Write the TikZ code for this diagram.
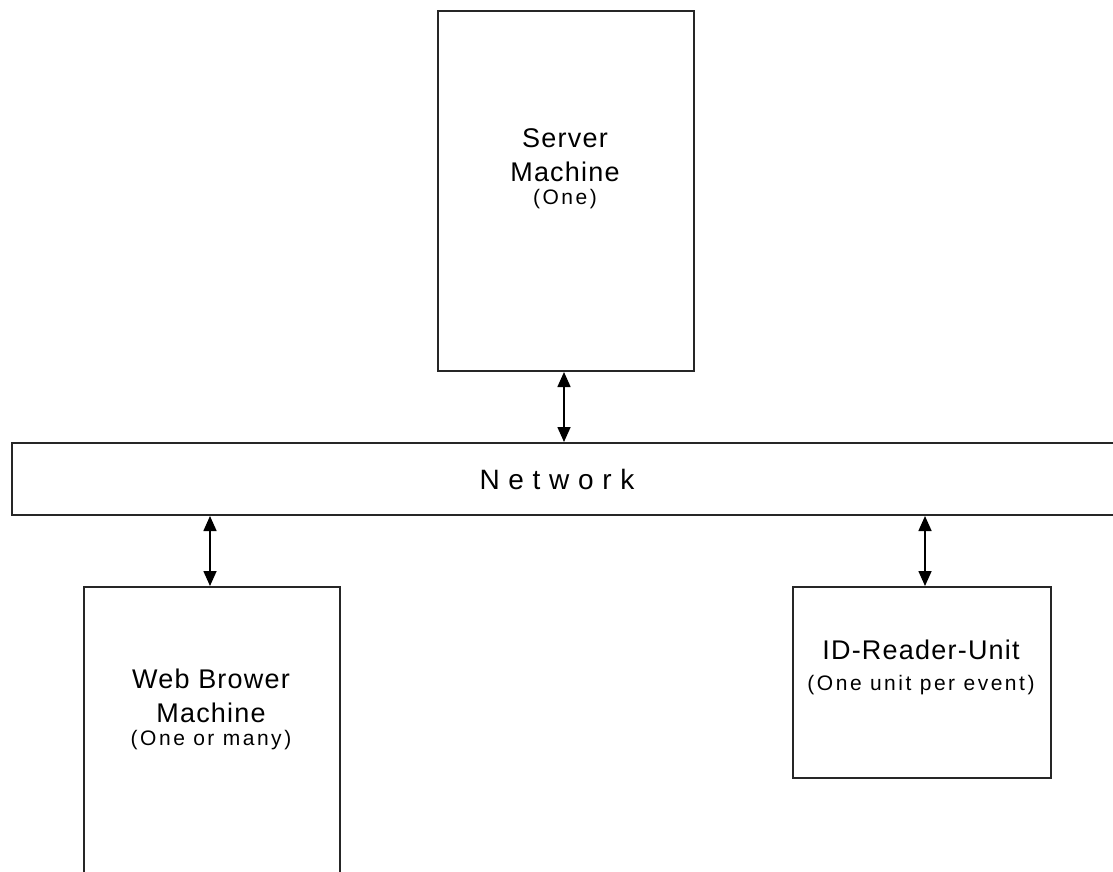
\documentclass[tikz,border=0pt]{standalone}
\usepackage{fontspec}
\setmainfont{Liberation Sans}
\usetikzlibrary{arrows.meta}
\begin{document}
\begin{tikzpicture}[x=1pt,y=-1pt,
  box/.style={draw=black!85,line width=2pt,fill=white,inner sep=0pt,anchor=north west},
  main/.style={font=\fontsize{27}{34}\selectfont\addfontfeatures{LetterSpace=4.5},align=center,inner sep=0pt},
  sub/.style={font=\fontsize{21}{24}\selectfont\addfontfeatures{LetterSpace=12},align=center,inner sep=0pt},
  link/.style={line width=1.6pt,{Triangle[width=13pt,length=15pt]}-{Triangle[width=13pt,length=15pt]}}]
\clip (0,0) rectangle (1113,871);
\fill[white] (0,0) rectangle (1113,871);
\node[box,minimum width=256pt,minimum height=360pt] (server) at (437,10) {};
\node[box,minimum width=1120pt,minimum height=72pt] (net) at (11,442) {};
\node[box,minimum width=256pt,minimum height=320pt] (web) at (83,586) {};
\node[box,minimum width=258pt,minimum height=191pt] (id) at (792,586) {};
\node[main] (servert) at (565,155) {Server\\Machine};
\node[sub] (servers) at (565,199) {(One)};
\node[inner sep=0pt,font=\fontsize{28}{34}\selectfont\addfontfeatures{LetterSpace=31}] (nett) at (557,479) {Network};
\node[main] (webt) at (211,696) {Web Brower\\Machine};
\node[sub] (webs) at (211,740) {(One or many)};
\node[main] (idt) at (921,650) {ID-Reader-Unit};
\node[sub] (ids) at (921,685) {(One unit per event)};
\draw[link] ([xshift=-2pt]server.south) -- ([xshift=-2pt]server.south |- net.north);
\draw[link] ([xshift=-2pt]web.north) -- ([xshift=-2pt]web.north |- net.south);
\draw[link] ([xshift=3pt]id.north) -- ([xshift=3pt]id.north |- net.south);
\end{tikzpicture}
\end{document}
